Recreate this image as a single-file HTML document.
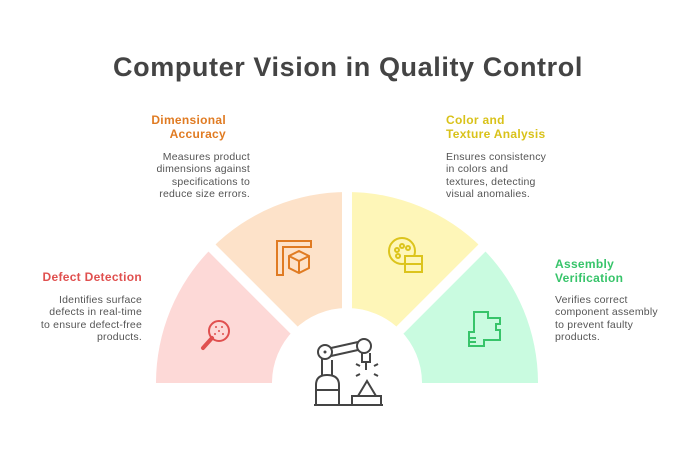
<!DOCTYPE html>
<html><head><meta charset="utf-8"><style>
body{margin:0;width:696px;height:456px;background:#fff;position:relative;overflow:hidden;font-family:"Liberation Sans",sans-serif}
.t{position:absolute;font-weight:bold;font-size:12px;line-height:14px;letter-spacing:0.3px}
.d{position:absolute;font-size:10.5px;line-height:12.3px;color:#555;letter-spacing:0.2px}
.r{text-align:right}
</style></head><body>
<svg width="696" height="456" style="position:absolute;left:0;top:0">
<g transform="translate(347,383)">
<path d="M-191,0 A191,191 0 0 1 -135.06,-135.06 L-53.03,-53.03 A75,75 0 0 0 -75,0 Z" fill="#fdd9d7"/>
<path d="M-135.06,-135.06 A191,191 0 0 1 0,-191 L0,-75 A75,75 0 0 0 -53.03,-53.03 Z" fill="#fde2c9"/>
<path d="M0,-191 A191,191 0 0 1 135.06,-135.06 L53.03,-53.03 A75,75 0 0 0 0,-75 Z" fill="#fef6b8"/>
<path d="M135.06,-135.06 A191,191 0 0 1 191,0 L75,0 A75,75 0 0 0 53.03,-53.03 Z" fill="#c9fbe0"/>
<g stroke="#fff" stroke-width="10">
<line x1="0" y1="0" x2="0" y2="-200"/><line x1="0" y1="0" x2="-142" y2="-142"/><line x1="0" y1="0" x2="142" y2="-142"/>
</g>
</g>
<g fill="none" stroke="#e0504f" stroke-width="2">
<circle cx="219" cy="331" r="10"/><line x1="212" y1="338" x2="203" y2="348" stroke-width="4" stroke-linecap="round"/>
</g>
<g fill="#e0504f"><circle cx="216" cy="327" r="1"/><circle cx="222" cy="327" r="1"/><circle cx="219" cy="331" r="1"/><circle cx="215" cy="334" r="1"/><circle cx="223" cy="334" r="1"/></g>
<g fill="none" stroke="#e07b22" stroke-width="2">
<path d="M277,275 V241 H311 V247 H283 V275 Z"/><path d="M299,251 L309,256 V268 L299,273 L289,268 V256 Z M289,256 L299,261 L309,256 M299,261 V273"/>
</g>
<g fill="none" stroke="#dcc41c" stroke-width="2">
<circle cx="402" cy="251" r="13"/><rect x="405" y="256" width="17" height="16" fill="#fef6b8"/><line x1="405" y1="264" x2="422" y2="264"/>
<circle cx="397" cy="250" r="2"/><circle cx="402" cy="246" r="2"/><circle cx="408" cy="248" r="2"/><circle cx="398" cy="256" r="2"/>
</g>
<g fill="none" stroke="#37c46a" stroke-width="2">
<path d="M474,312 H488 V318 H500 V324 H496 V330 H500 V340 H484 V346 H469 V332 H474 Z"/><path d="M469,338 H476 M469,342 H476"/>
</g>
<g fill="none" stroke="#444" stroke-width="2">
<path d="M316,405 V385 Q316,375 327,375 Q339,375 339,385 V405 Z M316,390 H339"/>
<path d="M322,375 V358 M332,375 V360"/>
<circle cx="325" cy="352" r="7"/><circle cx="364" cy="346" r="7"/>
<path d="M331,348 L358,342 M331,356 L358,350"/>
<path d="M362,353 V362 H370 V353 M366,362 V370"/>
<path d="M352,405 V396 H381 V405 Z M358,396 L367,381 L376,396"/>
<line x1="314" y1="405" x2="383" y2="405"/>
<path d="M356,364 l4,2 M378,364 l-4,2 M356,376 l4,-2 M378,376 l-4,-2"/>
</g>
<circle cx="325" cy="352" r="1.5" fill="#444"/>
</svg>
<div style="position:absolute;left:0;width:696px;top:52px;text-align:center;font-weight:bold;font-size:27px;color:#444;letter-spacing:0.6px">Computer Vision in Quality Control</div>
<div class="t r" style="right:554px;top:270px;color:#e0504f">Defect Detection</div>
<div class="d r" style="right:554px;top:294px">Identifies surface<br>defects in real-time<br>to ensure defect-free<br>products.</div>
<div class="t r" style="right:470px;top:113px;color:#e07b22">Dimensional<br>Accuracy</div>
<div class="d r" style="right:446px;top:151px">Measures product<br>dimensions against<br>specifications to<br>reduce size errors.</div>
<div class="t" style="left:446px;top:113px;color:#d9c21a">Color and<br>Texture Analysis</div>
<div class="d" style="left:446px;top:151px">Ensures consistency<br>in colors and<br>textures, detecting<br>visual anomalies.</div>
<div class="t" style="left:555px;top:257px;color:#37c46a">Assembly<br>Verification</div>
<div class="d" style="left:555px;top:294px">Verifies correct<br>component assembly<br>to prevent faulty<br>products.</div>
</body></html>
